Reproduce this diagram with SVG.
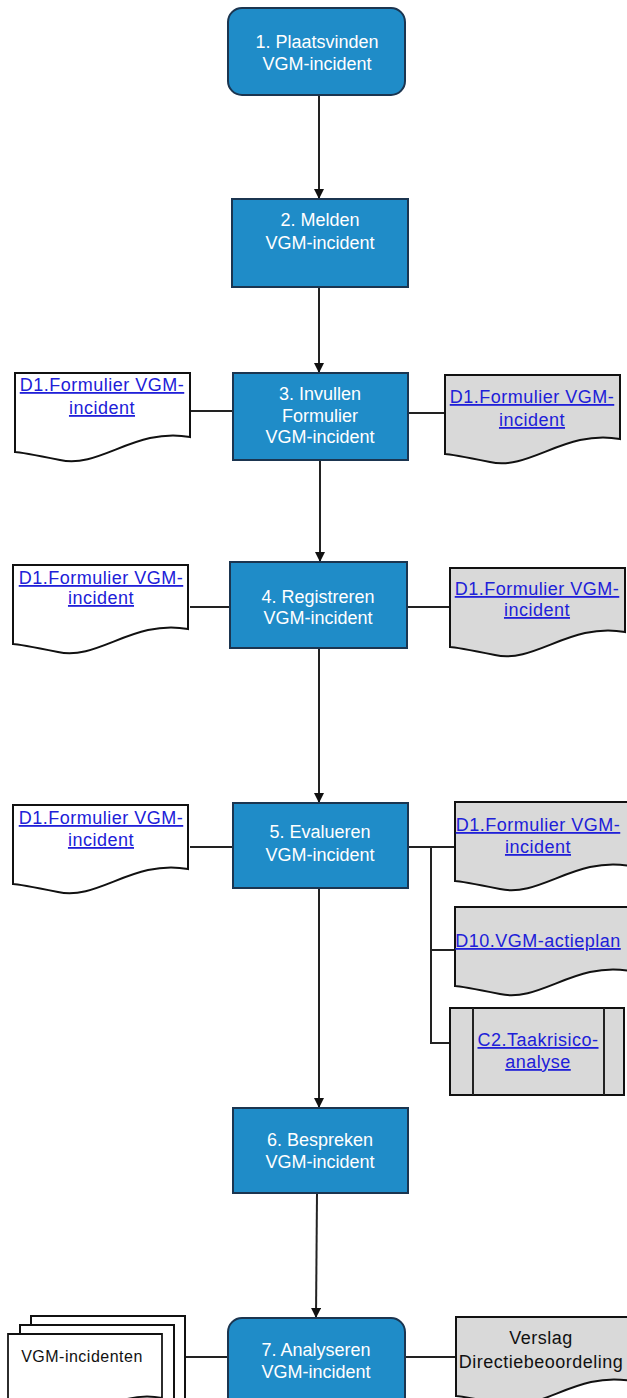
<svg xmlns="http://www.w3.org/2000/svg" width="627" height="1398" viewBox="0 0 627 1398">
<style>
.proc{fill:#1f8cc8;stroke:#1b3550;stroke-width:2}
.pt{font-family:"Liberation Sans",Arial,sans-serif;font-size:18px;fill:#fff;text-anchor:middle}
.lt{font-family:"Liberation Sans",Arial,sans-serif;font-size:18px;letter-spacing:0.5px;fill:#2020d8;text-anchor:middle;text-decoration:underline}
.bt{font-family:"Liberation Sans",Arial,sans-serif;font-size:18px;letter-spacing:0.5px;fill:#111;text-anchor:middle}
.dw{fill:#fff;stroke:#111;stroke-width:2}
.dg{fill:#d9d9d9;stroke:#111;stroke-width:2}
.ln{stroke:#222;stroke-width:2;fill:none}
</style>
<defs>
<marker id="ah" markerWidth="10" markerHeight="10" refX="9" refY="5" orient="auto" markerUnits="userSpaceOnUse">
<path d="M0,0 L10,5 L0,10 Z" fill="#111"/>
</marker>
<path id="doc" d="M0,0 H175 V64 C120,54 85,96 45,87 C20,82 5,79 0,79 Z"/>
</defs>
<rect width="627" height="1398" fill="#fff"/>
<g id="connectors">
<line class="ln" x1="319" y1="95" x2="319" y2="198" marker-end="url(#ah)"/>
<line class="ln" x1="319" y1="287" x2="319" y2="372" marker-end="url(#ah)"/>
<line class="ln" x1="320" y1="460" x2="320" y2="561" marker-end="url(#ah)"/>
<line class="ln" x1="319" y1="648" x2="319" y2="802" marker-end="url(#ah)"/>
<line class="ln" x1="319" y1="888" x2="319" y2="1107" marker-end="url(#ah)"/>
<line class="ln" x1="317" y1="1193" x2="316" y2="1317" marker-end="url(#ah)"/>
<line class="ln" x1="190" y1="411" x2="233" y2="411"/>
<line class="ln" x1="408" y1="413" x2="445" y2="413" stroke="#666"/>
<line class="ln" x1="190" y1="607" x2="230" y2="607"/>
<line class="ln" x1="407" y1="607" x2="450" y2="607"/>
<line class="ln" x1="190" y1="847" x2="233" y2="847"/>
<path class="ln" d="M408,847 H455 M431,847 V1043 H450 M431,950 H455"/>
<line class="ln" x1="185" y1="1357" x2="228" y2="1357"/>
<line class="ln" x1="405" y1="1357" x2="456" y2="1357"/>
</g>
<g id="n1">
<rect class="proc" x="228" y="8" width="177" height="87" rx="14"/>
<text class="pt" x="317" y="48">1. Plaatsvinden</text>
<text class="pt" x="317" y="70">VGM-incident</text>
</g>
<g id="n2">
<rect class="proc" x="232" y="199" width="176" height="88"/>
<text class="pt" x="320" y="226">2. Melden</text>
<text class="pt" x="320" y="249">VGM-incident</text>
</g>
<g id="n3">
<rect class="proc" x="233" y="373" width="175" height="87"/>
<text class="pt" x="320" y="400">3. Invullen</text>
<text class="pt" x="320" y="422">Formulier</text>
<text class="pt" x="320" y="443">VGM-incident</text>
</g>
<g id="d3l">
<use href="#doc" class="dw" x="15" y="373"/>
<text class="lt" x="102" y="391">D1.Formulier VGM-</text>
<text class="lt" x="102" y="414">incident</text>
</g>
<g id="d3r">
<use href="#doc" class="dg" x="445" y="375"/>
<text class="lt" x="532" y="403">D1.Formulier VGM-</text>
<text class="lt" x="532" y="426">incident</text>
</g>
<g id="n4">
<rect class="proc" x="230" y="562" width="177" height="86"/>
<text class="pt" x="318" y="603">4. Registreren</text>
<text class="pt" x="318" y="624">VGM-incident</text>
</g>
<g id="d4l">
<use href="#doc" class="dw" x="13" y="565"/>
<text class="lt" x="101" y="584">D1.Formulier VGM-</text>
<text class="lt" x="101" y="604">incident</text>
</g>
<g id="d4r">
<use href="#doc" class="dg" x="450" y="568"/>
<text class="lt" x="537" y="595">D1.Formulier VGM-</text>
<text class="lt" x="537" y="616">incident</text>
</g>
<g id="n5">
<rect class="proc" x="233" y="803" width="175" height="85"/>
<text class="pt" x="320" y="838">5. Evalueren</text>
<text class="pt" x="320" y="861">VGM-incident</text>
</g>
<g id="d5l">
<use href="#doc" class="dw" x="13" y="805"/>
<text class="lt" x="101" y="824">D1.Formulier VGM-</text>
<text class="lt" x="101" y="846">incident</text>
</g>
<g id="d5r1">
<use href="#doc" class="dg" x="455" y="802"/>
<text class="lt" x="538" y="831">D1.Formulier VGM-</text>
<text class="lt" x="538" y="853">incident</text>
</g>
<g id="d5r2">
<use href="#doc" class="dg" x="455" y="907"/>
<text class="lt" x="538" y="947">D10.VGM-actieplan</text>
</g>
<g id="c2">
<rect class="dg" x="450" y="1008" width="174" height="87"/>
<line class="ln" x1="473" y1="1008" x2="473" y2="1095"/>
<line class="ln" x1="604" y1="1008" x2="604" y2="1095"/>
<text class="lt" x="538" y="1046">C2.Taakrisico-</text>
<text class="lt" x="538" y="1068">analyse</text>
</g>
<g id="n6">
<rect class="proc" x="233" y="1108" width="175" height="85"/>
<text class="pt" x="320" y="1146">6. Bespreken</text>
<text class="pt" x="320" y="1168">VGM-incident</text>
</g>
<g id="n7">
<rect class="proc" x="228" y="1318" width="177" height="95" rx="14"/>
<text class="pt" x="316" y="1356">7. Analyseren</text>
<text class="pt" x="316" y="1378">VGM-incident</text>
</g>
<g id="d7l">
<rect class="dw" x="31" y="1316" width="154" height="90"/>
<rect class="dw" x="20" y="1325" width="154" height="90"/>
<use href="#doc" class="dw" x="8" y="1334" transform="translate(8,1334) scale(0.88,1) translate(-8,-1334)"/>
<text class="bt" x="82" y="1362" style="font-size:16px">VGM-incidenten</text>
</g>
<g id="d7r">
<use href="#doc" class="dg" x="456" y="1317"/>
<text class="bt" x="541" y="1344">Verslag</text>
<text class="bt" x="541" y="1368">Directiebeoordeling</text>
</g>
</svg>
